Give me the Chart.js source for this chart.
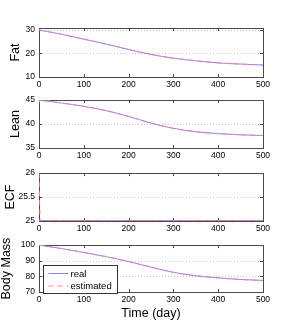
<!DOCTYPE html>
<html><head><meta charset="utf-8">
<script src="https://cdn.jsdelivr.net/npm/chart.js@4.4.1/dist/chart.umd.min.js"></script>
<style>
html,body{margin:0;padding:0;background:#fff;width:291px;height:330px;overflow:hidden;}
canvas{position:absolute;left:0;}
</style></head><body>
<canvas id="c0" width="291" height="74" style="top:19px"></canvas>
<canvas id="c1" width="291" height="73" style="top:91px"></canvas>
<canvas id="c2" width="291" height="73" style="top:164px"></canvas>
<canvas id="c3" width="291" height="94" style="top:236px"></canvas>
<script>
// ---- data ----
const DAYS      = [0, 50, 100, 150, 200, 250, 300, 350, 400, 450, 500];
const EST_DAYS  = [0, 3, 50, 100, 150, 200, 250, 300, 350, 400, 450, 500];
const X_TICKS   = [0, 100, 200, 300, 400, 500];

const FAT_REAL  = [30, 28.2, 26.1, 24.0, 21.7, 19.6, 18.0, 16.9, 16.0, 15.5, 15.1];
const FAT_EST   = [30, 29.9, 28.2, 26.1, 24.0, 21.7, 19.6, 18.0, 16.9, 16.0, 15.5, 15.1];
const FAT_TICKS = [10, 20, 30];

const LEAN_REAL = [45, 44.4, 43.7, 42.8, 41.6, 40.2, 39.1, 38.4, 38.0, 37.75, 37.6];
const LEAN_EST  = [44.4, 45, 44.4, 43.7, 42.8, 41.6, 40.2, 39.1, 38.4, 38.0, 37.75, 37.6];
const LEAN_TICKS = [35, 40, 45];

const ECF_REAL  = [25.01, 25.01, 25.01, 25.01, 25.01, 25.01, 25.01, 25.01, 25.01, 25.01, 25.01];
const ECF_EST   = [26, 25.01, 25.01, 25.01, 25.01, 25.01, 25.01, 25.01, 25.01, 25.01, 25.01, 25.01];
const ECF_TICKS = [25, 25.5, 26];

const BODY_REAL = [100, 97.8, 95.3, 92.6, 89.5, 85.9, 82.6, 80.4, 79.0, 78.0, 77.4];
const BODY_EST  = [100, 99.9, 97.8, 95.3, 92.6, 89.5, 85.9, 82.6, 80.4, 79.0, 78.0, 77.4];
const BODY_TICKS = [70, 80, 90, 100];

const SERIES_LABELS = ['real', 'estimated'];
const X_TITLE = 'Time (day)';

// ---- styling ----
const FONT = "'Liberation Sans', Arial, Helvetica, sans-serif";
const BLUE = '#7f86ff';
const RED = '#ff7f8c';
const AX = '#4a4a4a';

function pts(xs, ys) { return xs.map((x, i) => ({x: x, y: ys[i]})); }

const boxPlugin = {
  id: 'mbox',
  beforeDatasetsDraw(chart) {
    const {ctx, chartArea: a, scales} = chart;
    const ys = scales.y, xs = scales.x;
    ctx.save();
    ctx.strokeStyle = '#c4c4c4';
    ctx.lineWidth = 1;
    ctx.setLineDash([1, 2]);
    ys.ticks.forEach(t => {
      const py = Math.round(ys.getPixelForValue(t.value)) + 0.5;
      if (py > a.top + 1.5 && py < a.bottom - 1.5) {
        ctx.beginPath(); ctx.moveTo(a.left, py); ctx.lineTo(a.right, py); ctx.stroke();
      }
    });
    ctx.setLineDash([]);
    ctx.strokeStyle = AX;
    ctx.strokeRect(Math.round(a.left) + 0.5, Math.round(a.top) + 0.5,
                   Math.round(a.right - a.left), Math.round(a.bottom - a.top));
    const L = 3;
    ctx.beginPath();
    xs.ticks.forEach(t => {
      const px = Math.round(xs.getPixelForValue(t.value)) + 0.5;
      ctx.moveTo(px, a.bottom); ctx.lineTo(px, a.bottom - L);
      ctx.moveTo(px, a.top); ctx.lineTo(px, a.top + L);
    });
    ys.ticks.forEach(t => {
      const py = Math.round(ys.getPixelForValue(t.value)) + 0.5;
      ctx.moveTo(a.left, py); ctx.lineTo(a.left + L, py);
      ctx.moveTo(a.right, py); ctx.lineTo(a.right - L, py);
    });
    ctx.stroke();
    ctx.restore();
  },
  afterDatasetsDraw(chart, args, opts) {
    if (!opts || !opts.legend) return;
    const {ctx, chartArea: a} = chart;
    const lx = Math.round(a.left) + 4.5, ly = Math.round(a.top) + 20.5, w = 74, h = 28;
    ctx.save();
    ctx.fillStyle = '#fff';
    ctx.fillRect(lx, ly, w, h);
    ctx.strokeStyle = '#333';
    ctx.lineWidth = 1;
    ctx.strokeRect(lx, ly, w, h);
    ctx.font = '9.5px ' + FONT;
    ctx.textBaseline = 'middle';
    ctx.textAlign = 'left';
    chart.data.datasets.forEach((ds, i) => {
      const yy = ly + 8 + i * 12.5;
      ctx.strokeStyle = ds.borderColor;
      ctx.setLineDash(ds.borderDash || []);
      ctx.beginPath(); ctx.moveTo(lx + 5, yy); ctx.lineTo(lx + 25, yy); ctx.stroke();
      ctx.setLineDash([]);
      ctx.fillStyle = '#000';
      ctx.fillText(ds.label, lx + 27, yy + 0.5);
    });
    ctx.restore();
  }
};

function makeChart(id, real, est, yMin, yMax, yTicks, yTitle, yTitlePad, last) {
  return new Chart(document.getElementById(id), {
    type: 'line',
    data: {
      datasets: [
        {label: SERIES_LABELS[0], data: pts(DAYS, real), borderColor: BLUE, borderWidth: 1, order: 2,
         pointRadius: 0, cubicInterpolationMode: 'monotone', fill: false},
        {label: SERIES_LABELS[1], data: pts(EST_DAYS, est), borderColor: RED, borderWidth: 1, order: 1,
         borderDash: [5, 4], pointRadius: 0, cubicInterpolationMode: 'monotone', fill: false}
      ]
    },
    plugins: [boxPlugin],
    options: {
      responsive: false,
      animation: false,
      events: [],
      layout: {padding: {left: 0, right: 28, top: 6, bottom: 0}},
      plugins: {legend: {display: false}, tooltip: {enabled: false}, mbox: {legend: !!last}},
      scales: {
        x: {
          type: 'linear', min: 0, max: 500,
          afterBuildTicks: s => { s.ticks = X_TICKS.map(v => ({value: v})); },
          afterFit: s => { s.height = last ? 38 : 16; },
          grid: {display: false, drawTicks: false},
          border: {display: false},
          ticks: {padding: 3, maxRotation: 0, autoSkip: false, color: '#000',
                  font: {family: FONT, size: 8.5}, callback: v => String(v)},
          title: {display: !!last, text: X_TITLE, color: '#000',
                  font: {family: FONT, size: 12.5, lineHeight: 1}, padding: {top: 0, bottom: 10}}
        },
        y: {
          type: 'linear', min: yMin, max: yMax,
          afterBuildTicks: s => { s.ticks = yTicks.map(v => ({value: v})); },
          afterFit: s => { s.width = 39; },
          grid: {display: false, drawTicks: false},
          border: {display: false},
          ticks: {padding: 4, autoSkip: false, color: '#000',
                  font: {family: FONT, size: 8.5}, callback: v => String(v)},
          title: {display: true, text: yTitle, color: '#000',
                  font: {family: FONT, size: 12.5, lineHeight: 1}, padding: {top: yTitlePad, bottom: 0}}
        }
      }
    }
  });
}

makeChart('c0', FAT_REAL, FAT_EST, 10, 30.8, FAT_TICKS, 'Fat', 9, false);
makeChart('c1', LEAN_REAL, LEAN_EST, 35, 45, LEAN_TICKS, 'Lean', 9.5, false);
makeChart('c2', ECF_REAL, ECF_EST, 25, 26, ECF_TICKS, 'ECF', 4.5, false);
makeChart('c3', BODY_REAL, BODY_EST, 70, 100, BODY_TICKS, 'Body Mass', 0, true);
</script>
</body></html>
